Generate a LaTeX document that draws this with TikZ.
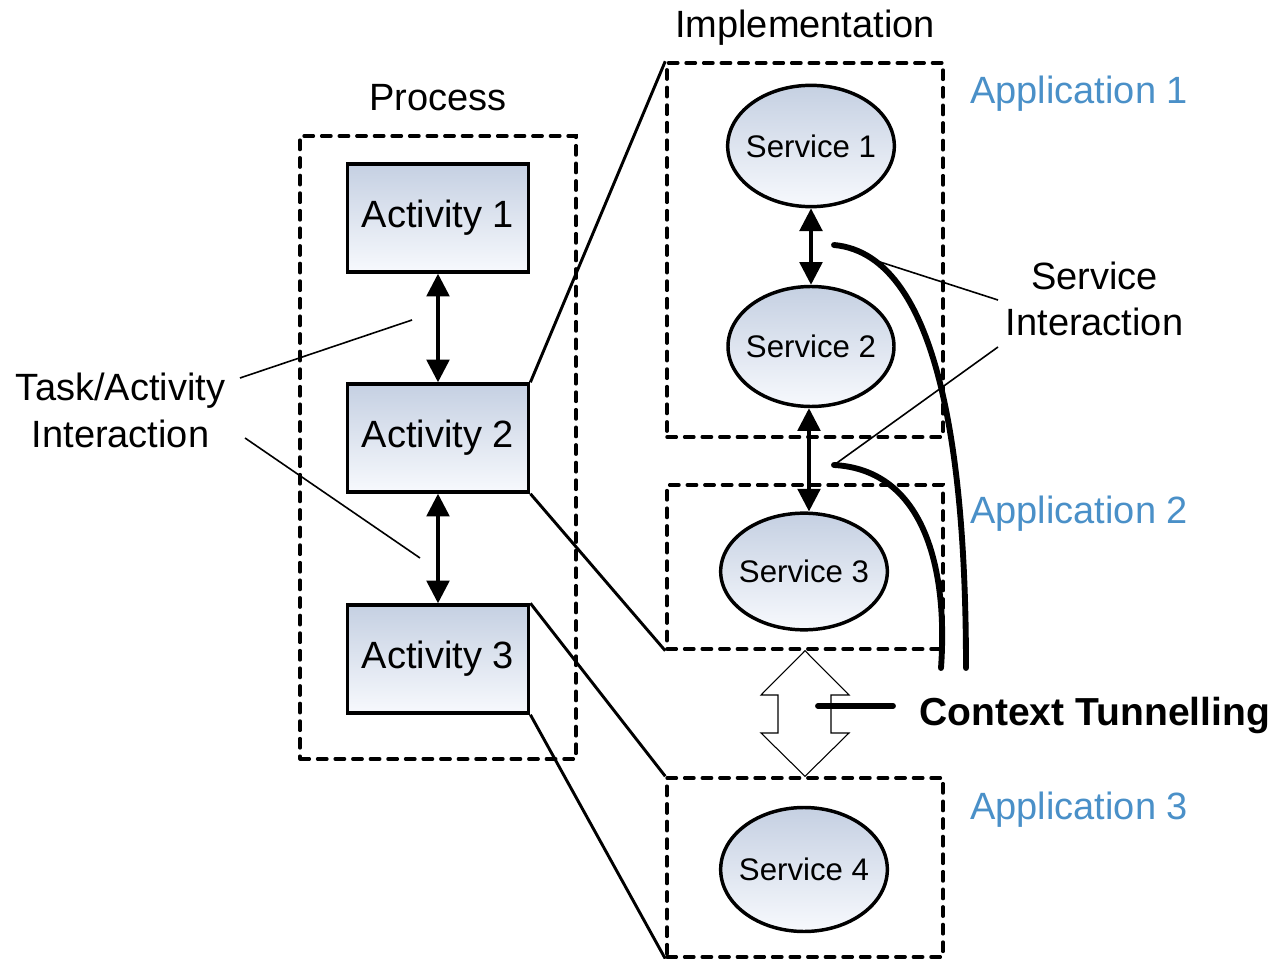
\documentclass[tikz,border=0pt]{standalone}
\usepackage{fontspec}
\setmainfont{Liberation Sans}
\usetikzlibrary{arrows.meta,calc,shapes.geometric}
\definecolor{apptxt}{RGB}{74,144,200}
\definecolor{gtop}{RGB}{197,208,226}
\definecolor{gbot}{RGB}{247,249,253}
\begin{document}
\begin{tikzpicture}[x=0.75pt,y=-0.75pt,
  font=\fontsize{28.5}{34.5}\selectfont,
  act/.style={draw, line width=2.6pt, top color=gtop, bottom color=gbot,
    minimum width=136pt, minimum height=81pt, inner sep=0pt},
  srv/.style={ellipse, draw, line width=2.6pt, top color=gtop, bottom color=gbot,
    inner sep=0pt, font=\fontsize{23.4}{28}\selectfont},
  dbox/.style={draw, dash pattern=on 7pt off 6.2pt, line cap=round, line width=2.6pt, inner sep=0pt},
  biarrow/.style={{Triangle[width=17pt,length=17pt]}-{Triangle[width=17pt,length=17pt]}, line width=2.6pt},
  zoomline/.style={line width=2.2pt},
  lblline/.style={line width=1.2pt},
  tunnel/.style={line width=4.4pt, line cap=round},
  apptext/.style={text=apptxt, anchor=base west, inner sep=0pt},
  plain/.style={inner sep=0pt}
]
\useasboundingbox (0,0) rectangle (1272,959);

% dashed containers
\node[dbox, minimum width=207pt, minimum height=467.25pt] (proc) at (438,447.5) {};
\node[dbox, minimum width=207pt, minimum height=280.5pt] (app1) at (805,250) {};
\node[dbox, minimum width=207pt, minimum height=123pt] (app2) at (805,567) {};
\node[dbox, minimum width=207pt, minimum height=134.25pt] (app3) at (805,867.5) {};

% titles
\node[plain, anchor=base] (proct) at (438,111) {Process};
\node[plain, anchor=base] (implt) at (805,38) {Implementation};
\node[apptext] (ap1) at (970,104) {Application 1};
\node[apptext] (ap2) at (970,523) {Application 2};
\node[apptext] (ap3) at (970,819) {Application 3};

% activities
\node[act] (a1) at (438,218) {Activity 1};
\node[act] (a2) at (438,438) {Activity 2};
\node[act] (a3) at (438,659) {Activity 3};
\draw[biarrow] (a1.south) -- (a2.north);
\draw[biarrow] (a2.south) -- (a3.north);

% services
\node[srv, minimum width=125pt, minimum height=91pt] (s1) at (811,146) {\makebox[0pt]{Service 1}};
\node[srv, minimum width=124.5pt, minimum height=90pt] (s2) at (811,346.5) {\makebox[0pt]{Service 2}};
\node[srv, minimum width=125pt, minimum height=87.5pt] (s3) at (804,571.5) {\makebox[0pt]{Service 3}};
\node[srv, minimum width=125pt, minimum height=93pt] (s4) at (804,869.5) {\makebox[0pt]{Service 4}};
\coordinate (ax) at (809,0);
\draw[biarrow] (s1.south) -- (s2.north);
\draw[biarrow] (ax |- s2.south) -- (ax |- s3.north);

% zoom lines
\draw[zoomline] (a2.north east) -- (app1.north west);
\draw[zoomline] (a2.south east) -- (app2.south west);
\draw[zoomline] (a3.north east) -- (app3.north west);
\draw[zoomline] (a3.south east) -- (app3.south west);

% task/activity interaction label
\node[plain, anchor=base, align=center] (tai) at (120.5,447) {Task/Activity\\[0.45pt]Interaction};
\coordinate (t1s) at (240,378);
\coordinate (t1e) at (412,320);
\coordinate (t2s) at (245,438);
\coordinate (t2e) at (420,558);
\draw[lblline] (t1s) -- (t1e);
\draw[lblline] (t2s) -- (t2e);

% context tunnelling curves
\coordinate (c1s) at (834,245);
\coordinate (c1e) at (966,668);
\coordinate (c2s) at (834,465);
\coordinate (c2e) at (941,668);
\draw[tunnel] (c1s) .. controls (945,255) and (966,480) .. (c1e);
\draw[tunnel] (c2s) .. controls (925,470) and (948,570) .. (c2e);

% service interaction label
\node[plain, anchor=base, align=center] (sil) at (1094.5,336) {Service\\[0.45pt]Interaction};
\coordinate (si1s) at (998,300);
\coordinate (si1e) at (877,261);
\coordinate (si2s) at (998,347);
\draw[lblline] (si1s) -- (si1e);
\draw[lblline] (si2s) -- (c2s);

% hollow double arrow
\draw[line width=0.8pt, fill=white, line join=miter]
  (app2.south) -- (849,695) -- (831,695) -- (831,733) -- (849,733) -- (app3.north)
  -- (761,733) -- (778,733) -- (778,695) -- (761,695) -- cycle;

% context tunnelling label
\node[plain, anchor=base west, font=\fontsize{29.3}{34}\selectfont\bfseries] (ctl) at (919,725) {Context Tunnelling};
\coordinate (cts) at (818,706);
\coordinate (cte) at (893,706);
\draw[tunnel] (cts) -- (cte);
\end{tikzpicture}
\end{document}
